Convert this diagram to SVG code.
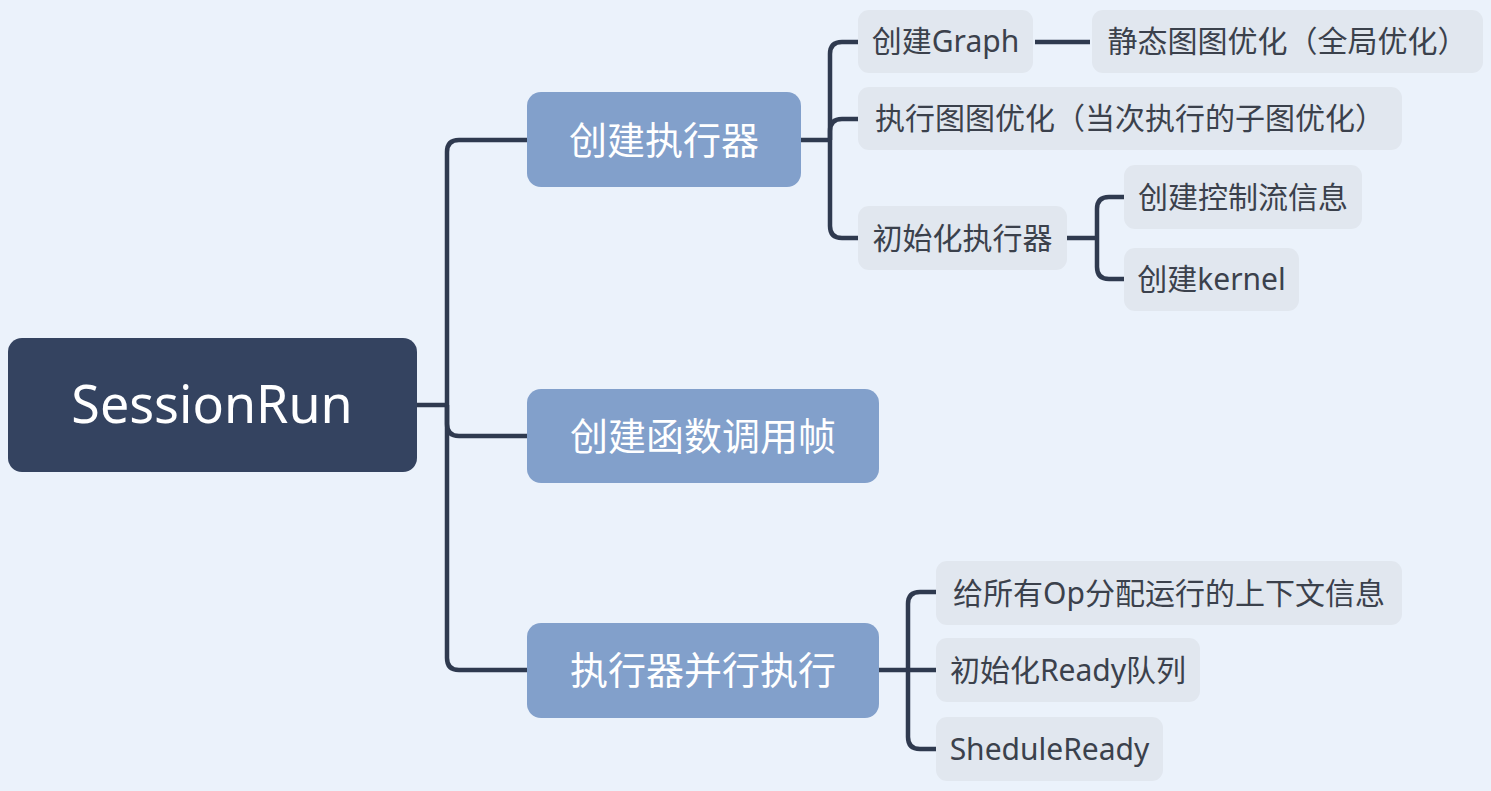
<svg xmlns="http://www.w3.org/2000/svg" width="1491" height="791" viewBox="0 0 1491 791">
<style>
.bg{fill:#ebf2fb}
.root rect{fill:#344360}
.l1 rect{fill:#82a0cb}
.l2 rect{fill:#e1e7ef}
text{font-family:"Noto Sans","Noto Sans CJK SC",sans-serif;text-anchor:middle}
.root text{fill:#ffffff;font-size:52px}
.l1 text{fill:#ffffff;font-size:38px}
.l2 text{fill:#3b414c;font-size:30px}
#connectors path{fill:none;stroke:#2f3a4f;stroke-width:4.5;stroke-linecap:butt}
</style>
<rect class="bg" x="0" y="0" width="1491" height="791"/>
<g id="connectors">
<path d="M417,405 H447"/>
<path d="M447,405 V152 Q447,140 459,140 H527"/>
<path d="M447,405 V424 Q447,436 459,436 H527"/>
<path d="M447,405 V658 Q447,670 459,670 H527"/>
<path d="M801,140 H830"/>
<path d="M830,140 V54 Q830,42 842,42 H858"/>
<path d="M830,140 V131 Q830,119 842,119 H858"/>
<path d="M830,140 V226 Q830,238 842,238 H858"/>
<path d="M1035,42 H1090"/>
<path d="M1067,238 H1097"/>
<path d="M1097,238 V209 Q1097,197 1109,197 H1124"/>
<path d="M1097,238 V267 Q1097,279 1109,279 H1124"/>
<path d="M879,670 H908"/>
<path d="M908,670 V604 Q908,592 920,592 H936"/>
<path d="M908,670 H936"/>
<path d="M908,670 V737 Q908,749 920,749 H936"/>
</g>
<g id="node-sessionrun" class="root">
<rect x="8" y="338" width="409" height="134" rx="14"/>
<text x="212" y="423">SessionRun</text>
</g>
<g id="node-create-executor" class="l1">
<rect x="527" y="92" width="274" height="95" rx="14"/>
<text x="664" y="154">创建执行器</text>
</g>
<g id="node-create-frame" class="l1">
<rect x="527" y="389" width="352" height="94" rx="14"/>
<text x="703" y="450">创建函数调用帧</text>
</g>
<g id="node-parallel-exec" class="l1">
<rect x="527" y="623" width="352" height="95" rx="14"/>
<text x="703" y="684">执行器并行执行</text>
</g>
<g id="node-create-graph" class="l2">
<rect x="858" y="10" width="175" height="63" rx="11"/>
<text x="945.5" y="52">创建Graph</text>
</g>
<g id="node-static-opt" class="l2">
<rect x="1092" y="10" width="391" height="63" rx="11"/>
<text x="1287.5" y="52">静态图图优化（全局优化）</text>
</g>
<g id="node-exec-opt" class="l2">
<rect x="858" y="87" width="544" height="63" rx="11"/>
<text x="1130" y="129">执行图图优化（当次执行的子图优化）</text>
</g>
<g id="node-init-executor" class="l2">
<rect x="858" y="206" width="209" height="64" rx="11"/>
<text x="962.5" y="249">初始化执行器</text>
</g>
<g id="node-control-flow" class="l2">
<rect x="1124" y="165" width="238" height="64" rx="11"/>
<text x="1243" y="208">创建控制流信息</text>
</g>
<g id="node-kernel" class="l2">
<rect x="1124" y="248" width="175" height="63" rx="11"/>
<text x="1211.5" y="290">创建kernel</text>
</g>
<g id="node-op-context" class="l2">
<rect x="936" y="561" width="466" height="64" rx="11"/>
<text x="1169" y="604">给所有Op分配运行的上下文信息</text>
</g>
<g id="node-ready-queue" class="l2">
<rect x="936" y="638" width="264" height="64" rx="11"/>
<text x="1068" y="681">初始化Ready队列</text>
</g>
<g id="node-schedule-ready" class="l2">
<rect x="936" y="717" width="227" height="64" rx="11"/>
<text x="1049.5" y="760">SheduleReady</text>
</g>
</svg>
